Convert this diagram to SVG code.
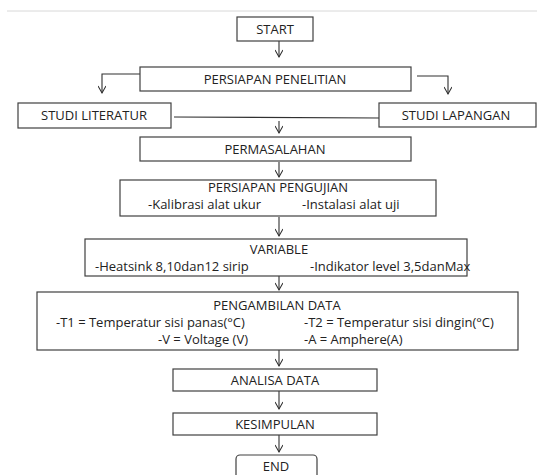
<svg xmlns="http://www.w3.org/2000/svg" width="537" height="475" viewBox="0 0 537 475">
<style>
.box{fill:#fff;stroke:#404040;stroke-width:1.2}
.ln{fill:none;stroke:#303030;stroke-width:1.1}
text{font-family:"Open Sans","Noto Sans",sans-serif;font-size:13px;fill:#222}
.c{text-anchor:middle}
</style>
<defs>
<marker id="ah" markerWidth="10" markerHeight="8" refX="8" refY="4" orient="auto" markerUnits="userSpaceOnUse">
<path d="M1,0 L8,4 L1,8" fill="none" stroke="#303030" stroke-width="1.1"/>
</marker>
</defs>
<rect width="537" height="475" fill="#fff"/>
<line x1="7" y1="11" x2="537" y2="11" stroke="#d8d8d8" stroke-width="1"/>
<g id="connectors">
<line class="ln" x1="279" y1="41" x2="279" y2="57" marker-end="url(#ah)"/>
<polyline class="ln" points="140,74 102,74 102,93" marker-end="url(#ah)"/>
<polyline class="ln" points="417,76 448,76 448,94" marker-end="url(#ah)"/>
<line class="ln" x1="174" y1="117" x2="379" y2="118"/>
<line class="ln" x1="279" y1="121" x2="279" y2="133" marker-end="url(#ah)"/>
<line class="ln" x1="279" y1="162" x2="279" y2="177" marker-end="url(#ah)"/>
<line class="ln" x1="279" y1="217" x2="279" y2="236" marker-end="url(#ah)"/>
<line class="ln" x1="279" y1="276" x2="279" y2="290" marker-end="url(#ah)"/>
<line class="ln" x1="279" y1="350" x2="279" y2="366" marker-end="url(#ah)"/>
<line class="ln" x1="279" y1="391" x2="279" y2="409" marker-end="url(#ah)"/>
<line class="ln" x1="279" y1="435" x2="279" y2="452" marker-end="url(#ah)"/>
</g>
<g id="start">
<rect class="box" x="237" y="17" width="76" height="24"/>
<text class="c" x="275" y="33.5">START</text>
</g>
<g id="persiapan-penelitian">
<rect class="box" x="140" y="67" width="271" height="24"/>
<text class="c" x="275" y="83.5">PERSIAPAN PENELITIAN</text>
</g>
<g id="studi-literatur">
<rect class="box" x="18" y="103" width="153" height="25"/>
<text class="c" x="94" y="119.5">STUDI LITERATUR</text>
</g>
<g id="studi-lapangan">
<rect class="box" x="379" y="103" width="157" height="24"/>
<text class="c" x="456" y="119.5">STUDI LAPANGAN</text>
</g>
<g id="permasalahan">
<rect class="box" x="140" y="137" width="271" height="24"/>
<text class="c" x="275" y="153.5">PERMASALAHAN</text>
</g>
<g id="persiapan-pengujian">
<rect class="box" x="120" y="180" width="316" height="36"/>
<text class="c" x="278" y="192">PERSIAPAN PENGUJIAN</text>
<text x="148" y="209">-Kalibrasi alat ukur</text>
<text x="302" y="209">-Instalasi alat uji</text>
</g>
<g id="variable">
<rect class="box" x="85" y="239" width="382" height="37"/>
<text class="c" x="279" y="254">VARIABLE</text>
<text x="95" y="270.5">-Heatsink 8,10dan12 sirip</text>
<text x="310" y="270.5">-Indikator level 3,5danMax</text>
</g>
<g id="pengambilan-data">
<rect class="box" x="37" y="292" width="481" height="58"/>
<text class="c" x="277" y="309.5">PENGAMBILAN DATA</text>
<text x="56" y="326.5">-T1 = Temperatur sisi panas(°C)</text>
<text x="248" y="343.5" text-anchor="end">-V = Voltage (V)</text>
<text x="304" y="326.5">-T2 = Temperatur sisi dingin(°C)</text>
<text x="304" y="343.5">-A = Amphere(A)</text>
</g>
<g id="analisa-data">
<rect class="box" x="173" y="369" width="204" height="22"/>
<text class="c" x="275" y="384.5">ANALISA DATA</text>
</g>
<g id="kesimpulan">
<rect class="box" x="173" y="413" width="204" height="22"/>
<text class="c" x="275" y="428.5">KESIMPULAN</text>
</g>
<g id="end">
<rect class="box" x="236" y="455" width="81" height="28" rx="4"/>
<text class="c" x="276" y="470.5">END</text>
</g>
</svg>
